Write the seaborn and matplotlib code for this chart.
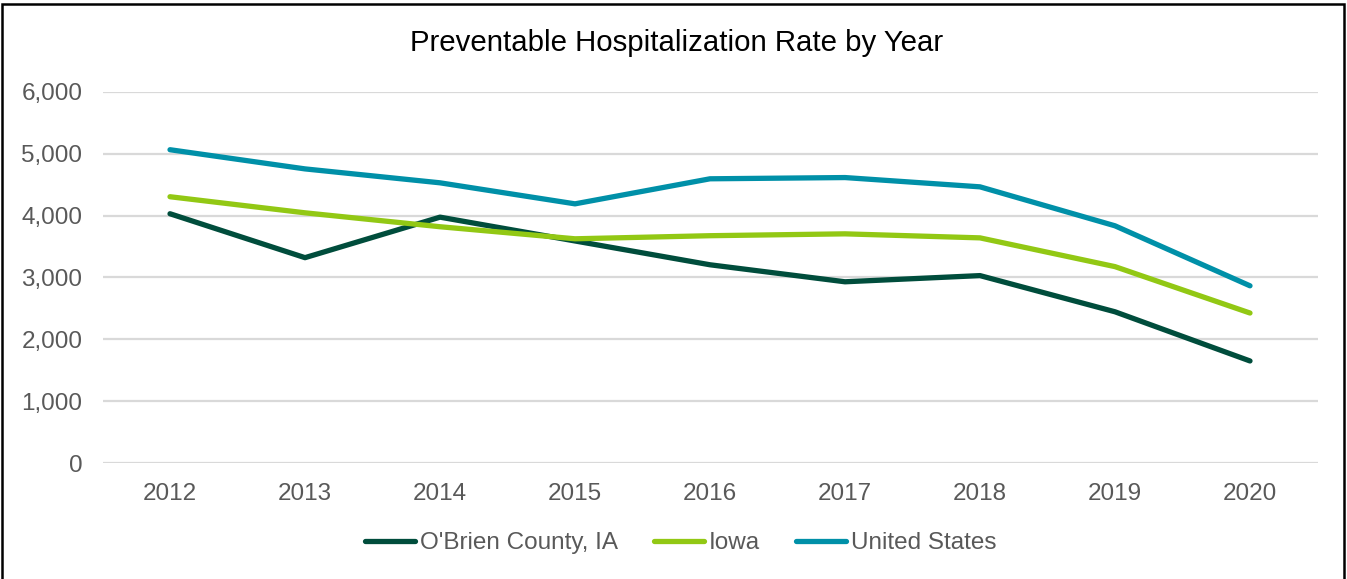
import pandas as pd
import matplotlib.pyplot as plt
import seaborn as sns
from matplotlib.patches import Rectangle

years = ["2012", "2013", "2014", "2015", "2016", "2017", "2018", "2019", "2020"]
obrien = [4030, 3320, 3975, 3590, 3205, 2930, 3030, 2445, 1650]
iowa = [4305, 4045, 3820, 3625, 3675, 3705, 3640, 3175, 2425]
us = [5065, 4755, 4530, 4190, 4595, 4615, 4465, 3835, 2865]
series = ["O'Brien County, IA", "Iowa", "United States"]
colors = ["#004D3C", "#92C814", "#0090A8"]

df = pd.DataFrame({"Year": years * 3,
                   "Rate": obrien + iowa + us,
                   "Area": [series[0]] * 9 + [series[1]] * 9 + [series[2]] * 9})

sns.set_style("white")
plt.rcParams['font.family'] = ['Liberation Sans', 'DejaVu Sans']

fig = plt.figure(figsize=(13.47, 5.79), dpi=100)
ax = fig.add_axes([0.0761, 0.2003, 0.902, 0.641])

sns.lineplot(data=df, x="Year", y="Rate", hue="Area", palette=colors,
             linewidth=3.8, sort=False, ax=ax, legend=True)
for ln in ax.get_lines():
    ln.set_solid_capstyle("round")
    ln.set_solid_joinstyle("round")

ax.set_xlim(-0.5, 8.5)
ax.set_ylim(0, 6000)
ax.set_yticks(range(0, 6001, 1000))
ax.set_yticklabels([f"{v:,}" for v in range(0, 6001, 1000)])
ax.yaxis.grid(True, color="#D9D9D9", linewidth=1.6)
ax.set_axisbelow(True)
for s in ax.spines.values():
    s.set_visible(False)
ax.tick_params(axis="both", length=0, labelsize=17.5, colors="#595959")
ax.tick_params(axis="y", pad=14.5)
ax.tick_params(axis="x", pad=14.5)
ax.set_xlabel("")
ax.set_ylabel("")

fig.text(0.502, 0.925, "Preventable Hospitalization Rate by Year", ha="center",
         va="center", fontsize=21.2, color="black")

leg = ax.legend(loc="center", bbox_to_anchor=(0.476, -0.216), ncol=3,
                frameon=False, fontsize=17.5, handlelength=2.05, handletextpad=0.2,
                columnspacing=1.5, labelcolor="#595959")
for h in leg.get_lines():
    h.set_linewidth(3.8)
    h.set_solid_capstyle("round")

fig.patches.append(Rectangle((0.0015, -0.01), 0.9965, 1.003, transform=fig.transFigure,
                             fill=False, edgecolor="black", linewidth=1.8))

fig.savefig("out.png", dpi=100)
